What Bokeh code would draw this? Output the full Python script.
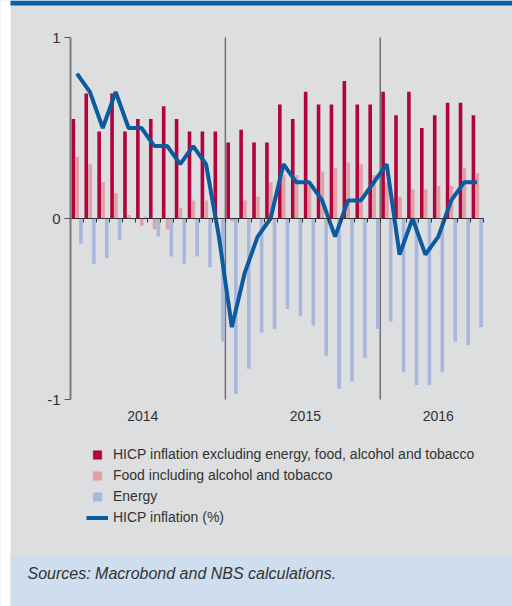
from bokeh.plotting import figure
from bokeh.models import (LinearAxis, FixedTicker, Legend, LegendItem, Range1d,
                          BoxAnnotation, Label, CDSView, IndexFilter, ColumnDataSource)
from bokeh.embed import file_html
from bokeh.resources import INLINE

# Jan 2014 .. Aug 2016 (monthly)
months = list(range(32))
core = [0.55, 0.69, 0.48, 0.69, 0.48, 0.55, 0.55, 0.62, 0.55, 0.48, 0.48, 0.48,
        0.42, 0.49, 0.42, 0.42, 0.63, 0.55, 0.70, 0.63, 0.63, 0.76, 0.63, 0.63,
        0.70, 0.57, 0.70, 0.50, 0.57, 0.64, 0.64, 0.57]
food = [0.34, 0.30, 0.20, 0.14, 0.02, -0.04, -0.06, -0.06, 0.06, 0.10, 0.10, 0.0,
        -0.015, 0.10, 0.12, 0.20, 0.24, 0.24, 0.18, 0.26, 0.28, 0.31, 0.30, 0.24,
        0.20, 0.12, 0.16, 0.16, 0.18, 0.18, 0.28, 0.25]
energy = [-0.14, -0.25, -0.22, -0.12, 0.0, 0.01, -0.10, -0.21, -0.25, -0.21, -0.27, -0.68,
          -0.97, -0.83, -0.63, -0.61, -0.50, -0.54, -0.59, -0.76, -0.94, -0.90, -0.77, -0.61,
          -0.57, -0.85, -0.92, -0.92, -0.85, -0.68, -0.70, -0.60]
hicp = [0.8, 0.7, 0.5, 0.7, 0.5, 0.5, 0.4, 0.4, 0.3, 0.4, 0.3, -0.1,
        -0.6, -0.3, -0.1, 0.0, 0.3, 0.2, 0.2, 0.1, -0.1, 0.1, 0.1, 0.2,
        0.3, -0.2, 0.0, -0.2, -0.1, 0.1, 0.2, 0.2]
year_labels = ["2014", "2015", "2016"]
year_label_pos = [5.6, 18.2, 28.5]
year_breaks = [12, 24]
y_ticks = [-1, 0, 1]
series_names = ["HICP inflation excluding energy, food, alcohol and tobacco",
                "Food including alcohol and tobacco",
                "Energy",
                "HICP inflation (%)"]
source_text = "Sources: Macrobond and NBS calculations."

C_CORE = "#B3033D"
C_FOOD = "#E0A0A5"
C_ENERGY = "#A9B7DD"
C_LINE = "#0C5B9E"
BG = "#DCDEE0"
C_TOPBAR = "#0462AA"
C_SRC = "#CEDEEE"
FONT = "Liberation Sans"
TXT = "#333333"

# canvas layout (frame fills the whole canvas)
W, H = 512, 606
PLOT_L, PLOT_R = 70, 483      # canvas px of month 0 and month 32
PLOT_T, PLOT_B = 37, 399      # canvas px of +1 and -1
PXM = (PLOT_R - PLOT_L) / len(months)
PXV = (PLOT_B - PLOT_T) / (max(y_ticks) - min(y_ticks))
X0 = -PLOT_L / PXM
X1 = X0 + W / PXM
Y1 = max(y_ticks) + PLOT_T / PXV
Y0 = Y1 - H / PXV


def dx(cx):
    return X0 + cx / PXM


def dy(cy):
    return Y1 - cy / PXV


p = figure(width=W, height=H, output_backend="svg", toolbar_location=None,
           x_range=Range1d(X0, X1), y_range=Range1d(Y0, Y1),
           x_axis_type=None, y_axis_type=None,
           background_fill_color=BG, border_fill_color=BG, outline_line_color=None,
           min_border=0)
p.grid.visible = False
p.title.visible = False

# decorative panels
p.add_layout(BoxAnnotation(right=dx(10), fill_color="white", fill_alpha=1,
                           line_color=None, level="underlay"))
p.add_layout(BoxAnnotation(left=dx(10), bottom=dy(5), fill_color=C_TOPBAR, fill_alpha=1,
                           line_color=None, level="underlay"))
p.add_layout(BoxAnnotation(left=dx(10), top=dy(556), fill_color=C_SRC, fill_alpha=1,
                           line_color=None, level="underlay"))

# separators between years
sep = p.segment(x0=year_breaks, y0=[min(y_ticks)] * len(year_breaks),
                x1=year_breaks, y1=[max(y_ticks)] * len(year_breaks),
                line_color="#707070", line_width=1.5)
sep.level = "underlay"

w = 0.28
src = ColumnDataSource(dict(x_core=[m + 0.22 for m in months], x_food=[m + 0.52 for m in months],
                            x_energy=[m + 0.81 for m in months], x_line=[m + 0.5 for m in months],
                            core=core, food=food, energy=energy, hicp=hicp))
p.vbar(x="x_core", width=w, top="core", bottom=0, source=src, fill_color=C_CORE, line_color=None)
p.vbar(x="x_food", width=w, top="food", bottom=0, source=src, fill_color=C_FOOD, line_color=None)
p.vbar(x="x_energy", width=w, top="energy", bottom=0, source=src, fill_color=C_ENERGY, line_color=None)
line_r = p.line(x="x_line", y="hicp", source=src, line_width=4, line_color=C_LINE)

# legend-only square markers (not drawn in the plot area)
no_rows = CDSView(filter=IndexFilter(indices=[]))
leg_sq = []
for col, xcol, colr in [("core", "x_core", C_CORE), ("food", "x_food", C_FOOD), ("energy", "x_energy", C_ENERGY)]:
    r1 = p.scatter(x=xcol, y=col, source=src, view=no_rows, marker="square",
                   fill_color=colr, line_color=colr, line_width=0.6)
    r2 = p.scatter(x=xcol, y=col, source=src, marker="square",
                   fill_color=colr, line_color=colr, line_width=0.6, visible=False)
    leg_sq.append([r1, r2])

# y axis
ya = LinearAxis(fixed_location=0, bounds=(min(y_ticks), max(y_ticks)),
                ticker=FixedTicker(ticks=y_ticks),
                major_label_overrides={t: str(t) for t in y_ticks},
                axis_line_color="#7a7a7a", axis_line_width=2,
                major_tick_line_color="#555555", major_tick_out=6, major_tick_in=0,
                minor_tick_out=0, minor_tick_in=0, major_label_standoff=4,
                major_label_text_font=FONT, major_label_text_font_size="15px",
                major_label_text_color=TXT)
p.add_layout(ya, "left")

# zero axis with monthly ticks
za = LinearAxis(fixed_location=0, bounds=(0, len(months)),
                ticker=FixedTicker(ticks=list(range(len(months) + 1))),
                major_label_overrides={i: "" for i in range(len(months) + 1)},
                axis_line_color="#333333", axis_line_width=1.2,
                major_tick_line_color="#333333", major_tick_out=4, major_tick_in=0,
                minor_tick_out=0, minor_tick_in=0)
p.add_layout(za, "below")

# year labels
yra = LinearAxis(fixed_location=min(y_ticks), ticker=FixedTicker(ticks=year_label_pos),
                 major_label_overrides=dict(zip(year_label_pos, year_labels)),
                 axis_line_color=None, major_tick_line_color=None,
                 major_tick_out=0, major_tick_in=0, minor_tick_out=0, minor_tick_in=0,
                 major_label_standoff=11, major_label_text_font=FONT,
                 major_label_text_font_size="14px", major_label_text_color=TXT)
p.add_layout(yra, "below")

legend = Legend(items=[LegendItem(label=series_names[0], renderers=leg_sq[0]),
                       LegendItem(label=series_names[1], renderers=leg_sq[1]),
                       LegendItem(label=series_names[2], renderers=leg_sq[2]),
                       LegendItem(label=series_names[3], renderers=[line_r])],
                location=(86, H - 527.5), orientation="vertical",
                glyph_width=22, glyph_height=21, label_height=21, spacing=0,
                padding=0, margin=0, label_standoff=5,
                border_line_color=None, background_fill_alpha=0, inactive_fill_alpha=0,
                label_text_font=FONT, label_text_font_size="14px", label_text_color=TXT)
p.add_layout(legend, "center")

p.add_layout(Label(x=dx(27), y=dy(573), text=source_text, text_baseline="middle",
                   text_font=FONT, text_font_style="italic", text_font_size="16px",
                   text_color=TXT))

open("out.html", "w").write(file_html(p, INLINE))
